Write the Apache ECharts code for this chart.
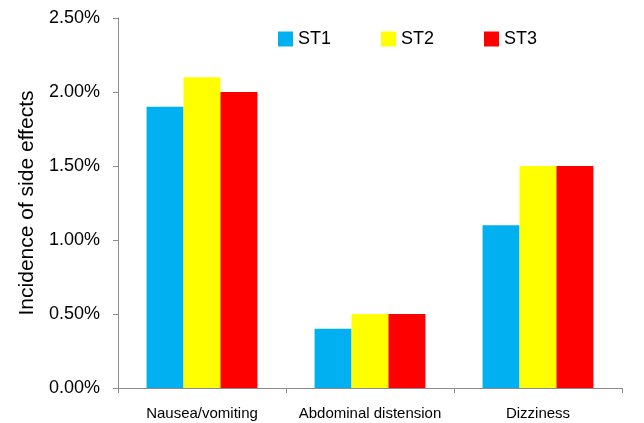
<!DOCTYPE html>
<html>
<head>
<meta charset="utf-8">
<script src="https://cdn.jsdelivr.net/npm/echarts@6/dist/echarts.min.js"></script>
<style>
  html, body { margin: 0; padding: 0; background: #fff; }
  #chart { width: 644px; height: 423px; }
</style>
</head>
<body>
<div id="chart"></div>
<script>
// Side-effect incidence (%) per symptom for each group
const categories = ['Nausea/vomiting', 'Abdominal distension', 'Dizziness'];
const st1 = [1.90, 0.40, 1.10];
const st2 = [2.10, 0.50, 1.50];
const st3 = [2.00, 0.50, 1.50];
const seriesNames = ['ST1', 'ST2', 'ST3'];
const seriesColors = ['#00B0F0', '#FFFF00', '#FF0000'];
const yTicks = [0, 0.5, 1.0, 1.5, 2.0, 2.5];

const font = 'Liberation Sans, Arial, sans-serif';
const axisGray = '#8c8c8c';

const chart = echarts.init(document.getElementById('chart'));
const seriesData = [st1, st2, st3];

chart.setOption({
  animation: false,
  textStyle: { fontFamily: font },
  legend: {
    data: seriesNames,
    left: 273,
    top: 25,
    itemWidth: 15,
    itemHeight: 15,
    itemGap: 50,
    icon: 'rect',
    textStyle: { fontSize: 18, color: '#000', fontFamily: font }
  },
  grid: { left: 118, right: 22, top: 18, bottom: 35, containLabel: false },
  xAxis: {
    type: 'category',
    data: categories,
    axisLine: { lineStyle: { color: axisGray, width: 1 } },
    axisTick: { show: true, length: 5, interval: 0, lineStyle: { color: axisGray } },
    axisLabel: { fontSize: 15, color: '#000', margin: 18, interval: 0, fontFamily: font }
  },
  yAxis: {
    type: 'value',
    min: yTicks[0],
    max: yTicks[yTicks.length - 1],
    interval: 0.5,
    name: 'Incidence of side effects',
    nameLocation: 'middle',
    nameGap: 78,
    nameTextStyle: { fontSize: 21, color: '#000', fontFamily: font },
    axisLine: { show: true, lineStyle: { color: axisGray, width: 1 } },
    axisTick: { show: true, length: 5, lineStyle: { color: axisGray } },
    splitLine: { show: false },
    axisLabel: {
      fontSize: 18,
      color: '#000',
      margin: 18,
      fontFamily: font,
      formatter: v => v.toFixed(2) + '%'
    }
  },
  series: seriesNames.map((name, i) => ({
    name: name,
    type: 'bar',
    data: seriesData[i],
    itemStyle: { color: seriesColors[i] },
    barGap: '0%',
    barCategoryGap: '34%'
  }))
});
</script>
</body>
</html>
